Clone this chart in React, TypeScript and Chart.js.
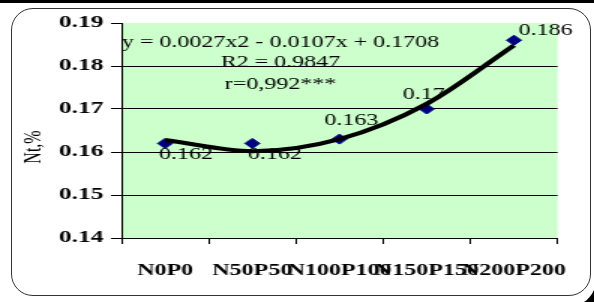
import React, { useEffect, useRef } from "react";
import { Chart, registerables } from "chart.js";

Chart.register(...registerables);

// ---- data ----
const categories = ["N0P0", "N50P50", "N100P100", "N150P150", "N200P200"];
const ntValues = [0.162, 0.162, 0.163, 0.17, 0.186];
const pointLabels = ["0.162", "0.162", "0.163", "0.17", "0.186"];
const trendValues = [0.1628, 0.1602, 0.163, 0.1712, 0.1848];
const yTicks = [0.14, 0.15, 0.16, 0.17, 0.18, 0.19];
const equationLines = ["y = 0.0027x2 - 0.0107x + 0.1708", "R2 = 0.9847", "r=0,992***"];
const yTitle = "Nt,%";

// ---- layout (the original picture is stretched horizontally) ----
const W = 594;
const H = 302;
const SX = 1.5;
const VW = Math.round(W / SX);
const FONT = "'Liberation Serif', 'Times New Roman', serif";
const labelOffsets: [number, number][] = [
  [14, 11],
  [15, 11],
  [8, -18],
  [-2, -14],
  [21, -9],
];
const equationOffsets: [number, number][] = [
  [106, 20],
  [106, 40],
  [106, 62],
];
const yTitlePos: [number, number] = [23, 147];

const bgPlugin = {
  id: "plotBg",
  beforeDraw(chart: any) {
    const { ctx, chartArea } = chart;
    ctx.save();
    ctx.fillStyle = "#CCFFCC";
    ctx.fillRect(chartArea.left, chartArea.top, chartArea.right - chartArea.left, chartArea.bottom - chartArea.top);
    ctx.restore();
  },
};

const textPlugin = {
  id: "texts",
  afterDatasetsDraw(chart: any) {
    const { ctx, chartArea } = chart;
    const meta = chart.getDatasetMeta(1);
    ctx.save();
    ctx.fillStyle = "#000";
    ctx.font = `16px ${FONT}`;
    ctx.textAlign = "center";
    ctx.textBaseline = "middle";
    meta.data.forEach((pt: any, i: number) => {
      const [dx, dy] = labelOffsets[i];
      ctx.fillText(pointLabels[i], pt.x + dx, pt.y + dy);
    });
    equationLines.forEach((line, i) => {
      const [dx, dy] = equationOffsets[i];
      ctx.fillText(line, chartArea.left + dx, chartArea.top + dy);
    });
    ctx.translate(yTitlePos[0], yTitlePos[1]);
    ctx.rotate(-Math.PI / 2);
    ctx.font = `16px ${FONT}`;
    ctx.fillText(yTitle, 0, 0);
    ctx.restore();
  },
};

export default function App() {
  const ref = useRef<HTMLCanvasElement | null>(null);

  useEffect(() => {
    if (!ref.current) return;
    const chart = new Chart(ref.current, {
      type: "line",
      data: {
        labels: categories,
        datasets: [
          {
            label: "trend",
            data: trendValues,
            borderColor: "#000",
            borderWidth: 4,
            pointRadius: 0,
            fill: false,
            cubicInterpolationMode: "monotone",
          },
          {
            label: "Nt",
            data: ntValues,
            showLine: false,
            pointStyle: "rectRot",
            pointRadius: 5,
            backgroundColor: "#000080",
            borderColor: "#000080",
            borderWidth: 1,
          },
        ],
      },
      options: {
        responsive: false,
        devicePixelRatio: 1,
        animation: false,
        layout: { padding: { left: 0, right: 17, top: 23, bottom: 0 } },
        plugins: { legend: { display: false }, tooltip: { enabled: false } },
        scales: {
          x: {
            type: "category",
            offset: true,
            grid: {
              offset: true,
              drawOnChartArea: false,
              color: "#000",
              tickLength: 6,
            },
            border: { display: true, color: "#000", width: 1 },
            ticks: {
              color: "#000",
              font: { family: FONT, size: 16, weight: "bold" },
              padding: 17,
              autoSkip: false,
              maxRotation: 0,
              minRotation: 0,
            },
            afterFit: (s: any) => {
              s.height = 64;
            },
          },
          y: {
            min: 0.14,
            max: 0.19,
            afterBuildTicks: (s: any) => {
              s.ticks = yTicks.map((v) => ({ value: v }));
            },
            grid: {
              color: (c: any) => (c.tick && c.tick.value > 0.1895 ? "rgba(0,0,0,0)" : "#000"),
              tickColor: "#000",
              tickLength: 7,
              lineWidth: 1,
            },
            border: { display: true, color: "#000", width: 1 },
            ticks: {
              color: "#000",
              font: { family: FONT, size: 17, weight: "bold" },
              padding: 5,
              callback: (v: any) => Number(v).toFixed(2),
            },
            afterFit: (s: any) => {
              s.width = 81;
            },
          },
        },
      },
      plugins: [bgPlugin, textPlugin],
    });
    return () => chart.destroy();
  }, []);

  return (
    <div
      style={{
        position: "fixed",
        left: 0,
        top: 0,
        width: W,
        height: H,
        overflow: "hidden",
        background: "#fff",
      }}
    >
      <div style={{ position: "absolute", left: 0, top: 0, width: W, height: 3, background: "#000" }} />
      <div
        style={{
          position: "absolute",
          left: 11,
          top: 8,
          width: 580,
          height: 288,
          border: "1px solid #333",
          borderRadius: 22,
          boxSizing: "border-box",
        }}
      />
      <div
        style={{
          position: "absolute",
          left: 570,
          top: 280,
          width: 34,
          height: 34,
          borderRight: "8px solid #000",
          borderBottom: "8px solid #000",
          borderBottomRightRadius: 34,
          boxSizing: "border-box",
        }}
      />
      <canvas
        ref={ref}
        width={VW}
        height={H}
        style={{
          position: "absolute",
          left: 0,
          top: 0,
          width: VW,
          height: H,
          transform: `scaleX(${W / VW})`,
          transformOrigin: "0 0",
        }}
      />
    </div>
  );
}
